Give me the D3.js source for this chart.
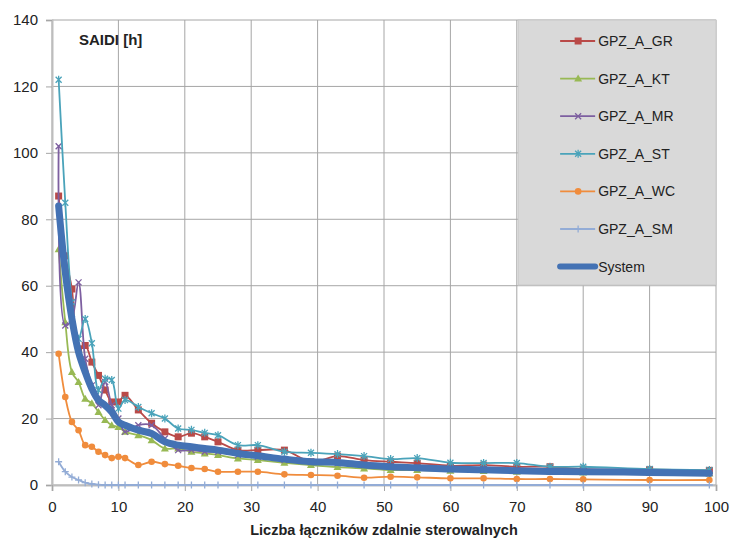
<!DOCTYPE html>
<html>
<head>
<meta charset="utf-8">
<script src="https://cdn.jsdelivr.net/npm/d3@7"></script>
<style>
  body { margin: 0; background: #fff; }
  text { font-family: "Liberation Sans", Arial, sans-serif; fill: #222; }
</style>
</head>
<body>
<svg id="chart"></svg>
<script>
// x positions (number of remotely controlled switches)
var xs = [1,2,3,4,5,6,7,8,9,10,11,13,15,17,19,21,23,25,28,31,35,39,43,47,51,55,60,65,70,75,80,90,99];

// SAIDI values
var gr  = [87,69,59,41,42,37,33,28.6,25,25,27,22.6,18.6,16,14.5,15.6,14.5,13,10.5,10.5,10.5,7,8.7,7.5,7,6.6,5.8,6,5.5,5.5,4.8,4.6,4.4];
var kt  = [71,49,34,31,26,24.6,22,19.6,18,17.5,16,15,13.5,11,11,10,9.5,9,8,7.5,6.7,6,5.4,5,4.5,4.5,4.3,4.2,4,3.9,3.8,3.6,3.5];
var mr  = [102,48,50,61,38,30,24,31,24,20,16,18,18,14,10.5,10.5,10,10,9,8.5,7.5,7,6.5,6,5.5,5.2,4.8,4.6,4.4,4.2,4,3.8,3.6];
var st  = [122,85,55,44,50,42.7,28.6,32,31.6,23,25.6,23.5,21.6,20,17,16.6,15.7,15,12,12,10,9.7,9.3,8.7,7.8,8.1,6.7,6.6,6.6,5.5,5.5,4.8,4.5];
var wc  = [39.5,26.5,19,16.5,12,11.5,10,9,8.1,8.5,8.1,6,7,6.3,5.8,5.1,4.8,4,4,4,3.2,3,2.8,2.2,2.5,2.3,2,2,1.8,1.8,1.7,1.5,1.5];
var sm  = [7,4,2.4,1.5,0.7,0.3,0.1,0,0,0,0,0,0,0,0,0,0,0,0,0,0,0,0,0,0,0,0,0,0,0,0,0,0];
var sys = [84,64,50,40,34,29,25.5,24,22,19,18,16.5,15.5,13,12,11.5,11,10.5,9.5,8.8,7.8,7,6.8,6,5.5,5.2,4.8,4.6,4.3,4.1,4,3.8,3.5];

var seriesNames = ["GPZ_A_GR","GPZ_A_KT","GPZ_A_MR","GPZ_A_ST","GPZ_A_WC","GPZ_A_SM","System"];
var xTicks = [0,10,20,30,40,50,60,70,80,90,100];
var yTicks = [0,20,40,60,80,100,120,140];

var series = [
  {name: seriesNames[0], values: gr,  color: "#b94a48", marker: "square",   width: 1.8},
  {name: seriesNames[1], values: kt,  color: "#98b954", marker: "triangle", width: 1.8},
  {name: seriesNames[2], values: mr,  color: "#7d5fa0", marker: "cross",    width: 1.8},
  {name: seriesNames[3], values: st,  color: "#4aa3ba", marker: "star",     width: 1.8},
  {name: seriesNames[4], values: wc,  color: "#f08c3c", marker: "circle",   width: 1.8},
  {name: seriesNames[5], values: sm,  color: "#93acd6", marker: "plus",     width: 1.8},
  {name: seriesNames[6], values: sys, color: "#4472b4", marker: null,       width: 7}
];

// set the dimensions and margins of the graph
var margin = {top: 20, right: 14, bottom: 55, left: 52},
    width = 730 - margin.left - margin.right,
    height = 540 - margin.top - margin.bottom;

var svg = d3.select("#chart")
    .attr("width", 730)
    .attr("height", 540)
  .append("g")
    .attr("transform", "translate(" + margin.left + "," + margin.top + ")");

var x = d3.scaleLinear().domain([0, 100]).range([0, width]);
var y = d3.scaleLinear().domain([0, 140]).range([height, 0]);

// gridlines
svg.append("g")
  .selectAll("line.h")
  .data(yTicks)
  .enter().append("line")
    .attr("x1", 0).attr("x2", width)
    .attr("y1", function(d) { return y(d); })
    .attr("y2", function(d) { return y(d); })
    .attr("stroke", "#a6a6a6");
svg.append("g")
  .selectAll("line.v")
  .data(xTicks)
  .enter().append("line")
    .attr("y1", 0).attr("y2", height)
    .attr("x1", function(d) { return x(d); })
    .attr("x2", function(d) { return x(d); })
    .attr("stroke", "#a6a6a6");

// axes
var yAxis = svg.append("g")
  .call(d3.axisLeft(y).tickValues(yTicks).tickSize(6).tickPadding(8));
var xAxis = svg.append("g")
  .attr("transform", "translate(0," + height + ")")
  .call(d3.axisBottom(x).tickValues(xTicks).tickSize(6).tickPadding(10));
[xAxis, yAxis].forEach(function(a) {
  a.select(".domain").attr("stroke", "#bdbdbd").attr("stroke-width", 2);
  a.selectAll(".tick line").attr("stroke", "#a6a6a6");
  a.selectAll(".tick text").style("font-size", "15px").attr("fill", "#222");
});

// legend background
var legX = x(70.2), legW = width - x(70.2), legH = 265;
svg.append("rect")
  .attr("x", legX).attr("y", 0)
  .attr("width", legW).attr("height", legH)
  .attr("fill", "#d9d9d9")
  .attr("stroke", "#c8c8c8");

// draw a marker
function marker(g, type, cx, cy, color) {
  if (type == "square") {
    g.append("rect").attr("x", cx - 3.5).attr("y", cy - 3.5).attr("width", 7).attr("height", 7).attr("fill", color);
  } else if (type == "triangle") {
    g.append("path").attr("d", "M" + cx + "," + (cy - 4) + "L" + (cx + 4) + "," + (cy + 3) + "L" + (cx - 4) + "," + (cy + 3) + "Z").attr("fill", color);
  } else if (type == "circle") {
    g.append("circle").attr("cx", cx).attr("cy", cy).attr("r", 3.3).attr("fill", color);
  } else if (type == "cross") {
    g.append("path").attr("d", "M" + (cx - 3) + "," + (cy - 3) + "L" + (cx + 3) + "," + (cy + 3) + "M" + (cx - 3) + "," + (cy + 3) + "L" + (cx + 3) + "," + (cy - 3))
      .attr("stroke", color).attr("stroke-width", 1.3);
  } else if (type == "star") {
    g.append("path").attr("d", "M" + (cx - 3) + "," + (cy - 3) + "L" + (cx + 3) + "," + (cy + 3) + "M" + (cx - 3) + "," + (cy + 3) + "L" + (cx + 3) + "," + (cy - 3) + "M" + cx + "," + (cy - 4) + "L" + cx + "," + (cy + 4))
      .attr("stroke", color).attr("stroke-width", 1.3);
  } else if (type == "plus") {
    g.append("path").attr("d", "M" + (cx - 3.5) + "," + cy + "L" + (cx + 3.5) + "," + cy + "M" + cx + "," + (cy - 3.5) + "L" + cx + "," + (cy + 3.5))
      .attr("stroke", color).attr("stroke-width", 1.3);
  }
}

var line = d3.line()
  .x(function(d) { return x(d[0]); })
  .y(function(d) { return y(d[1]); })
  .curve(d3.curveCatmullRom.alpha(0.5));

// series
series.forEach(function(s) {
  var pts = xs.map(function(v, i) { return [v, s.values[i]]; });
  var g = svg.append("g");
  g.append("path")
    .datum(pts)
    .attr("d", line)
    .attr("fill", "none")
    .attr("stroke", s.color)
    .attr("stroke-width", s.width)
    .attr("stroke-linejoin", "round")
    .attr("stroke-linecap", "round");
  if (s.marker) {
    pts.forEach(function(p) { marker(g, s.marker, x(p[0]), y(p[1]), s.color); });
  }
});

// legend entries
series.forEach(function(s, i) {
  var ly = 21 + i * 37.6;
  var g = svg.append("g");
  g.append("line")
    .attr("x1", legX + 42).attr("x2", legX + 77)
    .attr("y1", ly).attr("y2", ly)
    .attr("stroke", s.color)
    .attr("stroke-width", s.marker ? 1.8 : 6)
    .attr("stroke-linecap", s.marker ? "butt" : "round");
  if (s.marker) marker(g, s.marker, legX + 60, ly, s.color);
  g.append("text")
    .attr("x", legX + 80).attr("y", ly)
    .attr("dy", "0.35em")
    .style("font-size", "14px")
    .text(s.name);
});

// titles
svg.append("text")
  .attr("x", 27).attr("y", 25)
  .style("font-size", "15px")
  .style("font-weight", "bold")
  .text("SAIDI [h]");

svg.append("text")
  .attr("x", width / 2).attr("y", height + 50)
  .attr("text-anchor", "middle")
  .style("font-size", "14.5px")
  .style("font-weight", "bold")
  .text("Liczba łączników  zdalnie sterowalnych");
</script>
</body>
</html>
